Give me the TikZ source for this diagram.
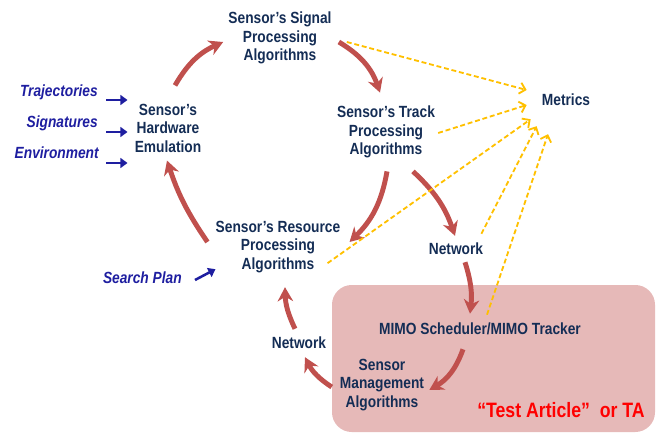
\documentclass[tikz,border=0pt]{standalone}
\usepackage{fontspec}
\setmainfont{Liberation Sans}[FakeStretch=0.85]
\usetikzlibrary{arrows.meta}
\definecolor{navy}{RGB}{20,45,85}
\definecolor{inblue}{RGB}{30,30,160}
\definecolor{cycred}{RGB}{192,80,77}
\definecolor{metgold}{RGB}{255,192,0}
\definecolor{tapink}{RGB}{230,185,184}
\begin{document}
\begin{tikzpicture}[x=0.025cm,y=-0.025cm,
lbl/.style ={text=navy, font=\fontsize{11.5}{13.2}\selectfont\bfseries,
  align=center, inner sep=0pt
},
inlbl/.style ={text=inblue, font=\fontsize{11.5}{13.2}\selectfont\bfseries\itshape,
  anchor=east, inner sep=0pt
},
redflow/.style ={draw=cycred, line width=3.5pt,
  -{Stealth[length=10pt,width=11pt]}
},
goldflow/.style ={draw=metgold, line width=1.3pt, dash pattern=on 3.5pt off 2pt,
  -{Straight Barb[length=4pt,width=8pt]}
},
blueflow/.style ={draw=inblue, line width=1.8pt,
  -{Triangle[length=5pt,width=7pt]}
}]
\useasboundingbox (0,0) rectangle (658,433);
\fill[tapink, rounded corners=14pt] (332,285) rectangle (655,432);

\node (sig) at (280,38) [lbl] {Sensor's Signal\\Processing\\Algorithms};
\node (trk) at (386,132) [lbl] {Sensor's Track\\Processing\\Algorithms};
\node (hw) at (168,128) [lbl] {Sensor's\\Hardware\\Emulation};
\node (res) at (278,247) [lbl] {Sensor's Resource\\Processing\\Algorithms};
\node (met) at (566,100) [lbl] {Metrics};
\node (net2) at (456,249) [lbl] {Network};
\node (net1) at (299,343) [lbl] {Network};
\node (mimo) at (480,329) [lbl] {MIMO Scheduler/MIMO Tracker};
\node (mgmt) at (382,385) [lbl] {Sensor\\Management\\Algorithms};
\node (ta) at (561,410) [lbl, text=red, font=\fontsize{14.8}{17}\selectfont\bfseries] {“Test Article”~ or TA};

\node (traj) at (98,92) [inlbl] {Trajectories};
\node (sgn) at (98,123) [inlbl] {Signatures};
\node (env) at (99,153) [inlbl] {Environment};
\node (srch) at (182,278) [inlbl] {Search Plan};

\draw[redflow] ([shift={(7,-18)}]hw.north) to[bend left=18] ([shift={(-5,4)}]sig.west);
\draw[redflow] ([shift={(7,4)}]sig.east) to[bend left=20] ([shift={(-6,-13)}]trk.north);
\draw[redflow] ([shift={(1,13)}]trk.south) to[bend left=18] ([shift={(9,-5)}]res.east);
\draw[redflow] ([shift={(27,13)}]trk.south) to[bend left=14] ([shift={(-1,-7)}]net2.north);
\draw[redflow] ([shift={(9,7)}]net2.south) to[bend left=12] ([shift={(-10,-9)}]mimo.north);
\draw[redflow] ([shift={(-17,14)}]mimo.south) to[bend left=20] ([shift={(5,5)}]mgmt.east);
\draw[redflow] ([shift={(-8,2)}]mgmt.west) to[bend left=15] ([shift={(6,8)}]net1.south);
\draw[redflow] ([shift={(-4,-8)}]net1.north) to[bend left=12] ([shift={(7,14)}]res.south);
\draw[redflow] ([shift={(-8,-5)}]res.west) to[bend left=8] ([shift={(-1,8)}]hw.south);

\draw[goldflow] ([shift={(15,4)}]sig.east) -- ([shift={(-15,-10)}]met.west);
\draw[goldflow] ([shift={(3,1)}]trk.east) -- ([shift={(-15,5)}]met.west);
\draw[goldflow] ([shift={(-13,-10)}]res.south east) -- ([shift={(-11,13)}]met.south west);
\draw[goldflow] ([shift={(-2,-9)}]net2.north east) -- ([shift={(-5,20)}]met.south west);
\draw[goldflow] ([shift={(7,-8)}]mimo.north) -- ([shift={(-18,28)}]met.south);

\draw[blueflow] ([shift={(8,8)}]traj.east) -- ([shift={(-7,-28)}]hw.west);
\draw[blueflow] ([shift={(8,9)}]sgn.east) -- ([shift={(-7,4)}]hw.west);
\draw[blueflow] ([shift={(7,10)}]env.east) -- ([shift={(-7,35)}]hw.west);
\draw[blueflow] ([shift={(13,2)}]srch.east) -- ([shift={(0,-4)}]res.south west);
\end{tikzpicture}
\end{document}
